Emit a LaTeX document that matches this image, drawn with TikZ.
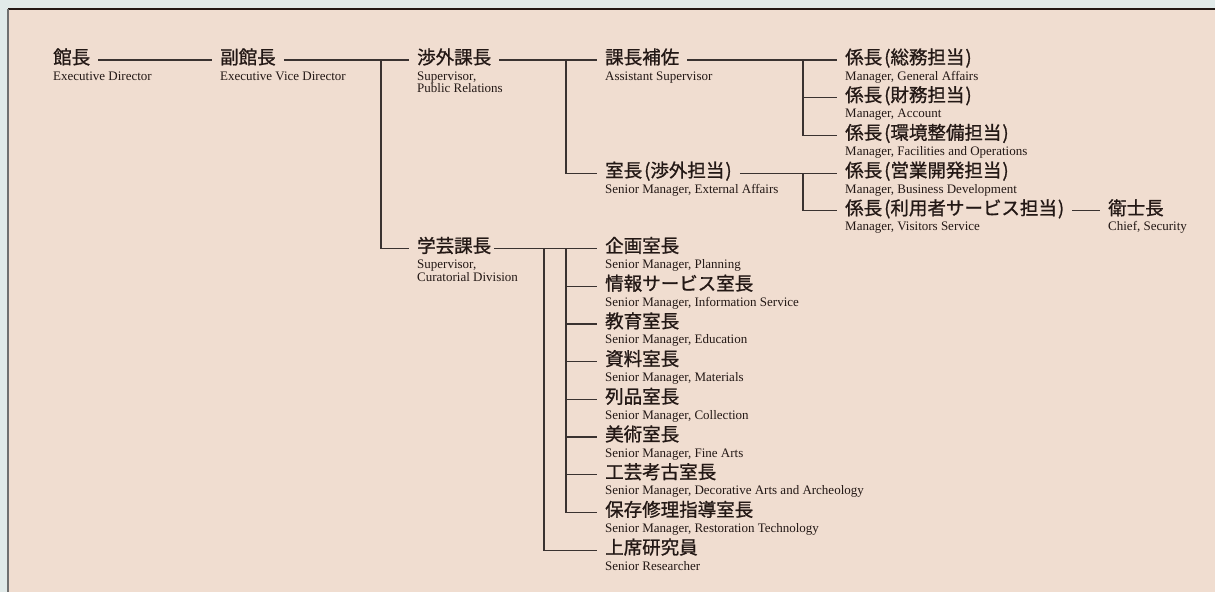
\documentclass[tikz,border=0pt]{standalone}
\usepackage{fontspec}
\setmainfont{Liberation Serif}
\newfontfamily\jpfont[FakeBold=1]{Noto Sans CJK JP}
\usepackage{xcolor}
\usepackage{tikz}
\definecolor{outerbg}{HTML}{E1EAE9}
\definecolor{panel}{HTML}{F0DDD0}
\definecolor{ink}{HTML}{231815}
\definecolor{linecol}{HTML}{3A3230}
\definecolor{edgegray}{HTML}{707070}

\begin{document}
\begin{tikzpicture}[
    x=1pt, y=-1pt,
    link/.style={draw=linecol, line width=1.2pt},
    role/.style={anchor=west, inner xsep=8pt, inner ysep=0pt, text height=12pt, text depth=4pt,
      font=\jpfont\fontsize{18.5}{18.5}\selectfont, text=ink},
    roleen/.style={anchor=base west, inner sep=0pt, align=left,
      font=\fontsize{13}{12.7}\selectfont, text=ink}
  ]
  \useasboundingbox (0,0) rectangle (1215,592);

  % Background panel
  \fill[outerbg] (0,0) rectangle (1215,592);
  \fill[panel] (8,9) rectangle (1215,592);
  \draw[ink, line width=1.5pt] (8,9) -- (1215,9);
  \draw[edgegray, line width=2pt] (8,9) -- (8,592);

  % Nodes
  \node[role] (kancho) at (45,60) {館長};
  \node[role] (fukukancho) at (212,60) {副館長};
  \node[role] (shogai) at (409,60) {渉外課長};
  \node[role] (gakugei) at (409,248.5) {学芸課長};
  \node[role] (hosa) at (597,60) {課長補佐};
  \node[role] (shitsucho) at (597,173.1) {室長\kern2pt(渉外担当\kern1pt)};
  \node[role] (kakari1) at (837,60) {係長\kern2pt(総務担当\kern1pt)};
  \node[role] (kakari2) at (837,97.7) {係長\kern2pt(財務担当\kern1pt)};
  \node[role] (kakari3) at (837,135.4) {係長\kern2pt(環境整備担当\kern1pt)};
  \node[role] (kakari4) at (837,173.1) {係長\kern2pt(営業開発担当\kern1pt)};
  \node[role] (kakari5) at (837,210.8) {係長\kern2pt(利用者サービス担当\kern1pt)};
  \node[role] (eishi) at (1100,210.8) {衛士長};
  \node[role] (kikaku) at (597,248.5) {企画室長};
  \node[role] (joho) at (597,286.2) {情報サービス室長};
  \node[role] (kyoiku) at (597,323.9) {教育室長};
  \node[role] (shiryo) at (597,361.6) {資料室長};
  \node[role] (retsuhin) at (597,399.3) {列品室長};
  \node[role] (bijutsu) at (597,437) {美術室長};
  \node[role] (kogei) at (597,474.7) {工芸考古室長};
  \node[role] (hozon) at (597,512.4) {保存修理指導室長};
  \node[role] (joseki) at (597,550.1) {上席研究員};

  % English titles
  \node[roleen] at ([xshift=8pt,yshift=-16pt]kancho.base west) {Executive Director};
  \node[roleen] at ([xshift=8pt,yshift=-16pt]fukukancho.base west) {Executive Vice Director};
  \node[roleen] at ([xshift=8pt,yshift=-28.7pt]shogai.base west) {Supervisor,\\Public Relations};
  \node[roleen] at ([xshift=8pt,yshift=-28.7pt]gakugei.base west) {Supervisor,\\Curatorial Division};
  \node[roleen] at ([xshift=8pt,yshift=-16pt]hosa.base west) {Assistant Supervisor};
  \node[roleen] at ([xshift=8pt,yshift=-16pt]shitsucho.base west) {Senior Manager, External Affairs};
  \node[roleen] at ([xshift=8pt,yshift=-16pt]kakari1.base west) {Manager, General Affairs};
  \node[roleen] at ([xshift=8pt,yshift=-16pt]kakari2.base west) {Manager, Account};
  \node[roleen] at ([xshift=8pt,yshift=-16pt]kakari3.base west) {Manager, Facilities and Operations};
  \node[roleen] at ([xshift=8pt,yshift=-16pt]kakari4.base west) {Manager, Business Development};
  \node[roleen] at ([xshift=8pt,yshift=-16pt]kakari5.base west) {Manager, Visitors Service};
  \node[roleen] at ([xshift=8pt,yshift=-16pt]eishi.base west) {Chief, Security};
  \node[roleen] at ([xshift=8pt,yshift=-16pt]kikaku.base west) {Senior Manager, Planning};
  \node[roleen] at ([xshift=8pt,yshift=-16pt]joho.base west) {Senior Manager, Information Service};
  \node[roleen] at ([xshift=8pt,yshift=-16pt]kyoiku.base west) {Senior Manager, Education};
  \node[roleen] at ([xshift=8pt,yshift=-16pt]shiryo.base west) {Senior Manager, Materials};
  \node[roleen] at ([xshift=8pt,yshift=-16pt]retsuhin.base west) {Senior Manager, Collection};
  \node[roleen] at ([xshift=8pt,yshift=-16pt]bijutsu.base west) {Senior Manager, Fine Arts};
  \node[roleen] at ([xshift=8pt,yshift=-16pt]kogei.base west) {Senior Manager, Decorative Arts and Archeology};
  \node[roleen] at ([xshift=8pt,yshift=-16pt]hozon.base west) {Senior Manager, Restoration Technology};
  \node[roleen] at ([xshift=8pt,yshift=-16pt]joseki.base west) {Senior Researcher};

  % Junctions
  \coordinate (fukuj) at (381,60);
  \coordinate (shogaij) at (566,60);
  \coordinate (hosaj) at (803,60);
  \coordinate (shitsuj) at (803,173.1);
  \coordinate (gakuj) at (566,248.5);
  \coordinate (gakuj2) at (544,248.5);

  % Edges
  \draw[link] (kancho) -- (fukukancho);
  \draw[link] (fukukancho) -- (shogai);
  \draw[link] (fukuj) |- (gakugei);
  \draw[link] (shogai) -- (hosa);
  \draw[link] (shogaij) |- (shitsucho);
  \draw[link] (hosa) -- (kakari1);
  \draw[link] (hosaj) |- (kakari2);
  \draw[link] (hosaj) |- (kakari3);
  \draw[link] (shitsucho) -- (kakari4);
  \draw[link] (shitsuj) |- (kakari5);
  \draw[link] (kakari5) -- (eishi);
  \draw[link] ([xshift=-5pt]gakugei.east) -- (kikaku.west);
  \draw[link] (gakuj) |- (joho);
  \draw[link] (gakuj) |- (kyoiku);
  \draw[link] (gakuj) |- (shiryo);
  \draw[link] (gakuj) |- (retsuhin);
  \draw[link] (gakuj) |- (bijutsu);
  \draw[link] (gakuj) |- (kogei);
  \draw[link] (gakuj) |- (hozon);
  \draw[link] (gakuj2) |- (joseki);

\end{tikzpicture}
\end{document}
